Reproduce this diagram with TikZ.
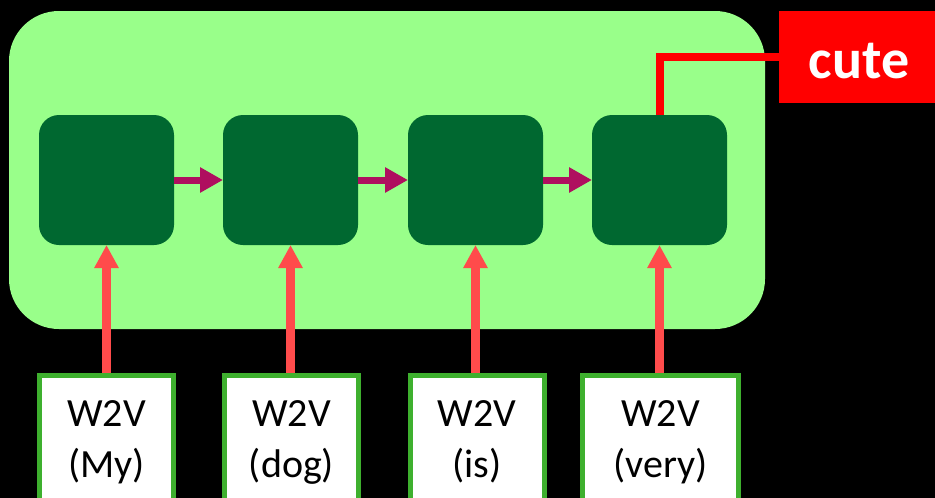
\documentclass[tikz,border=0pt]{standalone}
\usepackage{fontspec}
\setmainfont{Carlito}
\usetikzlibrary{arrows.meta}
\definecolor{panelgreen}{RGB}{153,255,138}
\definecolor{cellgreen}{RGB}{0,104,48}
\definecolor{linkpurple}{RGB}{175,15,95}
\definecolor{inred}{RGB}{255,75,75}
\definecolor{outred}{RGB}{255,0,0}
\definecolor{wborder}{RGB}{62,176,46}
\tikzset{
  panel/.style={fill=panelgreen, draw=none, rounded corners=50pt, minimum width=756pt, minimum height=318pt, inner sep=0pt, outer sep=0pt},
  cell/.style={fill=cellgreen, draw=none, rounded corners=20pt, minimum width=135pt, minimum height=130pt, inner sep=0pt, outer sep=0pt},
  w2vbox/.style={fill=white, draw=wborder, line width=5pt, minimum width=134pt, minimum height=160pt, anchor=north, inner sep=0pt, outer sep=2.5pt},
  w2vtext/.style={font=\fontsize{40}{51}\selectfont, align=center, inner sep=0pt, text=black},
  outbox/.style={fill=outred, draw=none, minimum width=180pt, minimum height=92pt, inner sep=0pt, outer sep=0pt},
  link/.style={draw=linkpurple, line width=7pt, -{Triangle[length=23pt,width=24pt]}},
  feed/.style={draw=inred, line width=9pt, -{Triangle[length=23pt,width=23pt]}},
  outlink/.style={draw=outred, line width=8pt, line join=miter},
}
\begin{document}
\begin{tikzpicture}[x=1pt, y=-1pt]
  % canvas
  \fill[black] (0,0) rectangle (935,498);
  \useasboundingbox (0,0) rectangle (935,498);
  \clip (0,0) rectangle (935,498);

  % recurrent block
  \node[panel] (panel) at (387,170) {};
  \node[cell] (c1) at (106.5,180) {};
  \node[cell] (c2) at (290.5,180) {};
  \node[cell] (c3) at (475.5,180) {};
  \node[cell] (c4) at (659.5,180) {};

  % output word
  \node[outbox] (cute) at (869,57) {};
  \node[font=\fontsize{56}{60}\selectfont\bfseries, text=white, anchor=base, inner sep=0pt] (cutetext) at (859,78) {cute};

  % word-vector inputs
  \node[w2vbox] (w1) at (106.5,373) {};
  \node[w2vbox] (w2) at (291.5,373) {};
  \node[w2vbox] (w3) at (477,373) {};
  \node[w2vbox, minimum width=156pt] (w4) at (660.5,373) {};
  \node[w2vtext] (t1) at (106.5,442) {W2V\\(My)};
  \node[w2vtext] (t2) at (291.5,442) {W2V\\(dog)};
  \node[w2vtext] (t3) at (477,442) {W2V\\(is)};
  \node[w2vtext] (t4) at (660.5,442) {W2V\\(very)};

  % recurrence between cells
  \draw[link] (c1.east) -- (c2.west);
  \draw[link] (c2.east) -- (c3.west);
  \draw[link] (c3.east) -- (c4.west);

  % inputs into cells
  \draw[feed] (w1.north -| c1.south) -- (c1.south);
  \draw[feed] (w2.north -| c2.south) -- (c2.south);
  \draw[feed] (w3.north -| c3.south) -- (c3.south);
  \draw[feed] (w4.north -| c4.south) -- (c4.south);

  % output from last cell
  \draw[outlink] (c4.north) |- (cute.west);
\end{tikzpicture}
\end{document}
